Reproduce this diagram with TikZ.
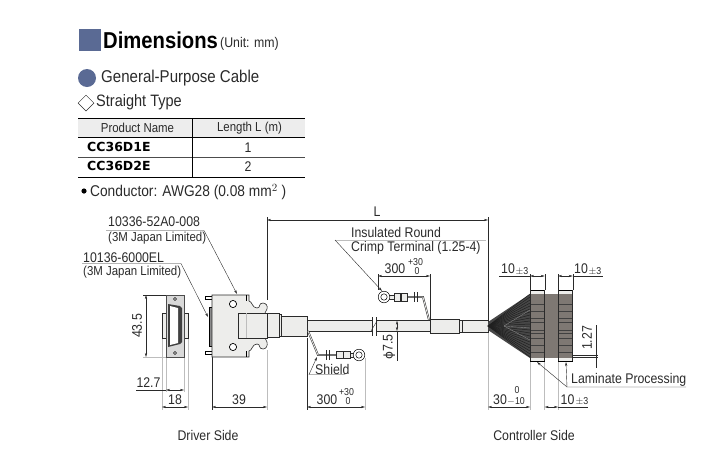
\documentclass[tikz,border=0pt]{standalone}
\usepackage{fontspec}
\setmainfont{Liberation Sans}[FakeStretch=0.88]
\newfontfamily\partfont{DejaVu Sans}
\usetikzlibrary{arrows.meta, shapes.geometric, positioning}

\definecolor{headblue}{HTML}{5A6A94}
\definecolor{partgray}{HTML}{EDEDEB}
\definecolor{dimgray}{HTML}{BDBDBD}
\definecolor{inkgray}{HTML}{2A2A2A}
\definecolor{bandgray}{HTML}{7E7873}

\tikzset{
	lbl/.style={font=\fontsize{14}{15}\selectfont, text=inkgray, inner sep=0pt},
	small lbl/.style={font=\fontsize{13}{15}\selectfont, text=inkgray, inner sep=0pt},
	tiny lbl/.style={font=\fontsize{10}{10}\selectfont, text=inkgray, inner sep=0pt},
	hd/.style={font=\fontsize{17.1}{18}\selectfont, inner sep=0pt, text=inkgray},
	dimen/.style={draw=inkgray, line width=0.35pt, {Stealth[length=4pt,width=2.2pt]}-{Stealth[length=4pt,width=2.2pt]}},
	thin line/.style={draw=inkgray, line width=0.4pt},
	ext/.style={draw=dimgray, line width=0.9pt},
	part/.style={draw=inkgray, line width=0.6pt, fill=partgray},
}

\begin{document}
\begin{tikzpicture}[x=1pt,y=-1pt]
\useasboundingbox (0,0) rectangle (714,472);

% heading
\fill[headblue] (79,29) rectangle (101,51);
\path (103,40) node[anchor=west, inner sep=0pt, font=\fontsize{23}{25}\selectfont\bfseries] (title) {Dimensions};
\path (220,44) node[anchor=west, lbl] (unit) {(Unit: mm)};
\fill[headblue] (87,78) circle (9);
\path (101,78) node[anchor=west, hd] (cable) {General-Purpose Cable};
\path (86,103) node[diamond, draw=inkgray, line width=0.5pt, minimum width=16pt, minimum height=16pt, inner sep=0pt] (mark) {};
\path (96,102) node[anchor=west, hd, font=\fontsize{16.5}{18}\selectfont] (type) {Straight Type};

% table
\fill[black!7] (78,118) rectangle (305,137);
\foreach \y in {118,137,177} \draw[line width=0.9pt] (78,\y) -- (305,\y);
\draw[line width=0.9pt, black!70] (78,157) -- (305,157);
\draw[line width=0.7pt] (192,118) -- (192,177);
\path (137.5,128) node[small lbl] (hname) {Product Name};
\path (249.5,128) node[small lbl] (hlen) {Length L (m)};
\path (87,147) node[anchor=west, inner sep=0pt, font=\fontsize{12.5}{13}\partfont\bfseries] (d1) {CC36D1E};
\path (87,166) node[anchor=west, inner sep=0pt, font=\fontsize{12.5}{13}\partfont\bfseries] (d2) {CC36D2E};
\path (248,148) node[lbl] (l1) {1};
\path (248,167) node[lbl] (l2) {2};
\fill (84,191) circle (2.6);
\path (90,192) node[anchor=west, hd, font=\fontsize{15.6}{18}\selectfont] (cond) {Conductor: AWG28 (0.08 mm$^{2}$ )};

% extension lines
\draw[thin line] (267,217) -- (267,300);
\draw[ext] (267,350) -- (267,410);
\draw[thin line] (488,217) -- (488,320);
\draw[ext] (488,332) -- (488,410);
\draw[thin line] (143,295) -- (166,295);
\draw[ext] (143,357) -- (166,357);
\foreach \x in {166,184} \draw[ext] (\x,357) -- (\x,392);
\foreach \x in {162,188} \draw[ext] (\x,338) -- (\x,410);
\draw[thin line] (212,357) -- (212,410);
\draw[thin line] (306.7,338) -- (306.7,410);
\draw[ext] (365,358) -- (365,410);
\draw[thin line] (378,274) -- (378,290);
\draw[thin line] (430,274) -- (430,320);
\foreach \x in {530,544.7,558} \draw[ext] (\x,361) -- (\x,410);
\foreach \x in {530,544.7,558,572.7} \draw[thin line] (\x,274) -- (\x,290);

% front view
\draw[part] (162,313) rectangle (188,338);
\draw[part, draw=black!70, fill=black!15] (166,295) rectangle (184,357);
\fill[black!75] (168,304) -- (180,306) -- (182,308) -- (182,342) -- (180,344) -- (168,347) -- cycle;
\fill[white] (170,306) -- (178,308) -- (178,343) -- (170,345) -- cycle;
\foreach \y in {299,353} \draw[line width=0.5pt, fill=white] (175,\y) circle (1.5);

% side view
\foreach \y in {298,353} \draw[line width=0.5pt, fill=white] (205,\y-1.5) rectangle (212,\y+1.5);
\draw[line width=0.5pt, fill=black!45] (209,307) rectangle (212,346);
\draw[part] (212,295) -- (249,295) -- (249,301) .. controls (252,301) and (252,308) .. (257,308)
	.. controls (261,308) and (258,303) .. (263,303) .. controls (266,303) and (268,306) .. (267,309)
	-- (265,313) -- (265,338) -- (267,342) .. controls (268,346) and (266,349) .. (263,349)
	.. controls (258,349) and (261,344) .. (257,344) .. controls (252,344) and (252,351) .. (249,351)
	-- (249,357) -- (212,357) -- cycle;
\foreach \y in {295,351} \draw[line width=0.5pt] (246,\y) -- (246,\y+6);
\foreach \y in {304,347} \draw[line width=0.7pt, fill=white] (233,\y) circle (3.6);
\draw[part] (238,313) rectangle (267,338);
\draw[dimgray, line width=0.6pt] (246,313) -- (246,338);
\draw[part] (267,313) rectangle (279,337);
\draw[part] (279,314) rectangle (281,336);
\draw[part] (281,316) rectangle (307,336);

% cable
\draw[part] (307,320.7) rectangle (430,331);
\fill[white] (372,318) rectangle (376,334);
\foreach \x in {372,376} \draw[thin line] (\x,317) -- (\x,336);
\draw[thin line] (371,331) -- (377,321);
\draw[part] (430,319) rectangle (459,333);
\draw[part] (459,320) rectangle (462,332);
\draw[part] (462,320) rectangle (488,332);

% shield branches
\draw[line width=1.8pt, inkgray] (429,320) -- (423,297) -- (407,297);
\draw[line width=0.8pt, partgray] (429,320) -- (423,297) -- (407,297);
\draw[line width=1.8pt, inkgray] (308,331) -- (318,355) -- (336,355);
\draw[line width=0.8pt, partgray] (308,331) -- (318,355) -- (336,355);
\foreach \x in {414,417} \draw[thin line] (\x,292) -- (\x,302);
\foreach \x in {326,329} \draw[thin line] (\x,350) -- (\x,360);
\foreach \x in {394,401} \draw[part] (\x,293.5) rectangle (\x+6.5,301);
\foreach \x in {336,343} \draw[part] (\x,351.5) rectangle (\x+7,358.5);
\draw[part] (388,295) -- (394,295) -- (394,299.5) -- (388,299.5) -- cycle;
\draw[part] (350,353) -- (355,353) -- (355,357.5) -- (350,357.5) -- cycle;
\foreach \cx/\cy in {384/297,359/355} {
	\draw[line width=0.5pt, fill=white] (\cx,\cy) circle (5.8);
	\draw[line width=0.5pt, fill=white] (\cx,\cy) circle (3.2);
}

% wires and laminate
\fill[black!72] (488,322) -- (530,294) -- (530,358) -- (488,330) -- cycle;
\foreach \y in {294,297,...,358} \draw[line width=0.5pt, black!88] (488,326) -- (530,\y);
\foreach \y in {310,328,340} \draw[line width=0.4pt, black!48] (504,326) -- (530,\y);
\foreach \x in {530,558} \draw[line width=0.5pt, fill=partgray] (\x,290) rectangle (\x+14.7,361);
\fill[bandgray] (530,294) rectangle (572.7,358);
\foreach \y in {304,311,318,322,330,333,338,345,352} \draw[line width=0.5pt, black!75] (530,\y) -- (544.7,\y) (558,\y) -- (572.7,\y);
\foreach \x in {530,544.7,558,572.7} \draw[line width=0.5pt, inkgray] (\x,290) -- (\x,361);

% dimensions
\draw[dimen] (267,220) -- (488,220);
\path (377,212) node[lbl] (len) {L};
\draw[dimen] (146,295) -- (146,357);
\path (137,326) node[lbl, rotate=90] (d435) {43.5};
\draw[thin line] (136,390) -- (166,390);
\draw[dimen] (166,390) -- (184,390);
\path (148.5,383) node[lbl] (d127) {12.7};
\draw[dimen] (162,407) -- (188,407);
\path (175,400) node[lbl] (d18) {18};
\draw[dimen] (212,407) -- (267,407);
\path (239,400) node[lbl] (d39) {39};
\draw[dimen] (307,407) -- (365,407);
\path (327,400) node[lbl] (lenb) {300};
\path (346.5,392.5) node[tiny lbl] (lenbu) {+30};
\path (348,401.5) node[tiny lbl] (lenbl) {0};
\draw[dimen] (378,276) -- (430,276);
\path (395,269) node[lbl] (lent) {300};
\path (415.5,262.5) node[tiny lbl] (lentu) {+30};
\path (417,271.5) node[tiny lbl] (lentl) {0};
\draw[dimen] (397,320.7) -- (397,331);
\draw[thin line] (397,331) -- (397,361);
\path (389,347) node[lbl, rotate=90] (dia) {{\partfont\fontsize{12}{14}\selectfont ϕ}7.5};
\draw[thin line] (499,276) -- (530,276);
\draw[dimen] (530,276) -- (544.7,276);
\path (508,269) node[lbl] (ta) {10};
\path (522,271) node[tiny lbl] (tap) {$\pm$3};
\draw[thin line] (572.7,276) -- (603,276);
\draw[dimen] (558,276) -- (572.7,276);
\path (581,269) node[lbl] (tb) {10};
\path (595,271) node[tiny lbl] (tbp) {$\pm$3};
\draw[dimen] (488,407) -- (530,407);
\path (500,400) node[lbl] (s30) {30};
\path (517,390) node[tiny lbl] (s30u) {0};
\path (516,401.5) node[tiny lbl] (s30l) {$-$10};
\draw[thin line] (558,407) -- (588,407);
\draw[dimen] (544.7,407) -- (558,407);
\path (567.5,400) node[lbl] (tc) {10};
\path (582,401) node[tiny lbl] (tcp) {$\pm$3};
\draw[thin line] (572,355) -- (598,355);
\draw[thin line] (572,357.5) -- (598,357.5);
\draw[thin line] (596,325) -- (596,368);
\path (587,338) node[lbl, rotate=90] (pitch) {1.27};

% leaders
\path (108,222) node[anchor=west, lbl] (hood) {10336-52A0-008};
\path (108,238) node[anchor=west, small lbl] (hoodm) {(3M Japan Limited)};
\draw[thin line, -{Stealth[length=4pt,width=2.2pt]}] (106,230.5) -- (204,230.5) -- (237,294);
\path (83,258) node[anchor=west, lbl] (plug) {10136-6000EL};
\path (83,272) node[anchor=west, small lbl] (plugm) {(3M Japan Limited)};
\draw[thin line, -{Stealth[length=4pt,width=2.2pt]}] (82,263.5) -- (181,263.5) -- (208,317);
\path (351,232) node[anchor=west, lbl] (ins) {Insulated Round};
\path (351,248) node[anchor=west, lbl] (crimp) {Crimp Terminal (1.25-4)};
\draw[ext] (486,240) -- (335,240);
\draw[thin line, -{Stealth[length=4pt,width=2.2pt]}] (335,240) -- (382,291);
\path (315,369) node[anchor=west, lbl] (shield) {Shield};
\draw[thin line, -{Stealth[length=4pt,width=2.2pt]}] (345,374.5) -- (309,374.5) -- (317,357);
\path (571,380) node[anchor=west, lbl] (lam) {Laminate Processing};
\draw[thin line, -{Stealth[length=4pt,width=2.2pt]}] (686,387) -- (567,387) -- (537,362);
\draw[thin line, -{Stealth[length=4pt,width=2.2pt]}] (567,387) -- (566,362);

% side captions
\path (208,435) node[lbl] (drv) {Driver Side};
\path (534,435) node[lbl] (ctl) {Controller Side};
\end{tikzpicture}
\end{document}
